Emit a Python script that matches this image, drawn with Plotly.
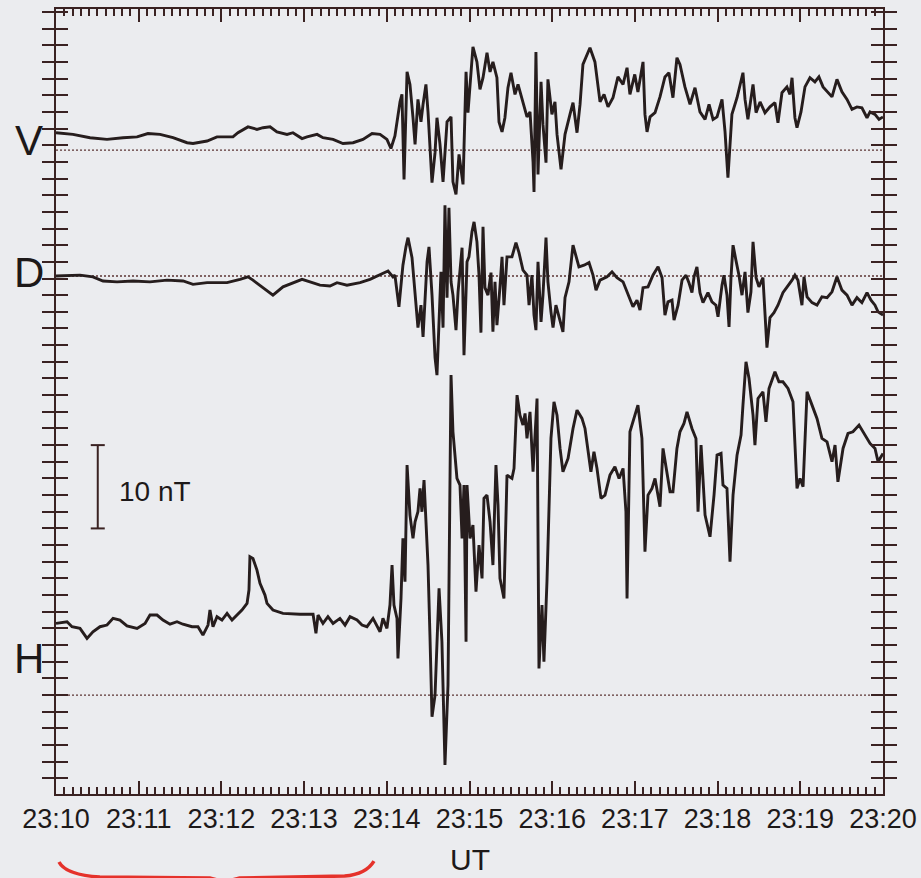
import plotly.graph_objects as go

# Ground magnetometer record, 23:10-23:20 UT.
# Each sample: (seconds after 23:10 UT, field in nT relative to the component's baseline)
V_SAMPLES = [
    (0, 2.1), (12.3, 1.9), (24.7, 1.5), (37.0, 1.3), (48.6, 1.5), (58.8, 1.6), (66.7, 2.0),
    (75.5, 1.9), (84.9, 1.5), (95.1, 0.9), (99.4, 0.8), (109.6, 1.1), (116.8, 1.6), (128.4, 1.6),
    (132.0, 2.1), (139.3, 2.8), (145.8, 2.5), (150.2, 2.7), (155.3, 2.8), (160.3, 2.2), (167.6, 1.9),
    (171.9, 2.1), (178.5, 1.4), (182.1, 1.6), (189.4, 1.9), (193.7, 1.5), (201.0, 1.3), (208.2, 0.8),
    (215.5, 0.9), (222.7, 1.3), (229.3, 2.0), (235.1, 1.9), (240.1, 1.3), (243.0, 0.2), (245.9, 1.7),
    (249.6, 5.8), (251.0, 6.7), (252.5, -3.5), (254.7, 9.4), (256.8, 7.9), (259.0, 3.9), (260.5, 0.7),
    (262.6, 6.1), (264.8, 3.4), (266.3, 5.5), (268.4, 7.9), (269.9, 4.6), (272.8, -3.9), (275.0, -0.3),
    (276.4, 3.9), (278.6, 0.7), (280.8, -3.8), (283.7, 3.4), (286.6, 4.0), (288.0, -3.8), (290.2, -5.3),
    (292.4, -0.5), (295.3, -4.1), (297.5, 9.4), (298.9, 4.5), (302.5, 12.4), (305.4, 10.6), (307.6, 7.3),
    (309.8, 8.7), (312.7, 11.7), (314.9, 9.4), (317.0, 10.6), (319.9, 8.7), (321.4, 3.4), (323.6, 2.2),
    (325.7, 3.9), (327.9, 7.5), (330.1, 9.3), (333.0, 6.7), (335.2, 7.9), (338.1, 6.1), (341.7, 4.0),
    (343.9, 4.6), (346.1, -1.4), (346.8, -5.0), (348.2, 11.8), (349.7, -2.9), (351.9, 8.2), (353.3, 3.1),
    (355.5, -1.5), (356.9, 8.5), (359.8, 4.3), (362.0, 5.8), (363.5, 1.9), (366.4, -2.3), (369.3, 1.9),
    (372.9, 4.3), (375.1, 5.7), (378.0, 2.1), (380.2, 5.5), (382.3, 10.3), (387.4, 12.3), (391.0, 10.6),
    (394.7, 5.8), (397.6, 6.7), (400.5, 5.2), (404.1, 6.3), (407.7, 8.8), (411.4, 7.9), (414.3, 9.9),
    (416.4, 6.7), (419.9, 9.1), (422.2, 7.0), (425.9, 10.6), (427.3, 4.3), (428.8, 2.2), (431.0, 4.0),
    (434.6, 4.5), (438.2, 6.4), (441.8, 8.8), (444.7, 9.3), (447.6, 6.3), (450.5, 11.1), (452.7, 10.3),
    (456.3, 7.6), (460.0, 5.5), (463.6, 7.5), (467.2, 4.6), (470.9, 3.7), (473.8, 5.5), (476.7, 3.7),
    (479.6, 4.0), (483.2, 6.1), (485.4, 2.2), (487.5, -3.3), (490.4, 4.3), (494.1, 6.3), (498.4, 9.3),
    (499.9, 6.1), (502.0, 3.7), (505.7, 7.9), (507.9, 4.5), (510.8, 5.8), (514.4, 4.5), (518.0, 5.2),
    (521.6, 5.7), (523.8, 3.3), (526.7, 6.9), (530.3, 7.6), (532.5, 6.7), (534.0, 8.7), (536.1, 3.9),
    (537.6, 2.7), (540.5, 4.6), (543.4, 7.6), (547.0, 8.7), (550.6, 8.2), (553.5, 8.8), (556.5, 7.6),
    (560.1, 7.0), (563.0, 6.4), (566.6, 8.5), (570.2, 7.0), (573.9, 6.1), (577.5, 4.9), (581.1, 5.2),
    (584.7, 5.1), (588.4, 3.9), (590.6, 4.6), (594.2, 4.3), (597.1, 3.7), (600.0, 4.0),
]

D_SAMPLES = [
    (0, 0.0), (17.4, 0.1), (26.8, -0.1), (34.1, -0.6), (44.3, -0.7), (55.9, -0.6), (68.2, -0.7),
    (80.6, -0.5), (92.2, -0.6), (99.4, -1.0), (109.6, -0.8), (124.1, -0.8), (133.5, -0.4), (139.3, -0.1),
    (142.9, -0.5), (150.2, -1.4), (157.4, -2.3), (164.7, -1.3), (171.9, -0.8), (178.5, -0.4), (184.3, -0.7),
    (191.5, -1.1), (198.8, -1.2), (203.9, -0.8), (211.1, -1.1), (220.6, -0.8), (227.8, -0.4), (235.1, 0.2),
    (240.9, 0.6), (244.5, -0.1), (245.9, 0.1), (248.8, -3.7), (251.7, 1.3), (253.9, 3.5), (255.4, 4.6),
    (258.3, 2.2), (260.5, -2.3), (262.6, -6.2), (264.8, -3.5), (266.3, -7.3), (269.2, 1.7), (270.6, 3.5),
    (272.8, -2.3), (275.0, -9.8), (276.4, -11.9), (277.9, -6.2), (279.3, 0.5), (280.8, -6.2), (282.2, 8.5),
    (283.7, -2.6), (285.1, 8.2), (286.6, -0.7), (288.0, -2.3), (290.2, -6.5), (291.7, -1.9), (294.6, 3.4),
    (296.0, -9.5), (298.2, 1.7), (299.6, 2.3), (301.8, 5.3), (303.3, 6.5), (305.4, 4.1), (306.9, 0.1),
    (308.3, -6.8), (309.8, 5.9), (311.2, -1.4), (313.4, -2.3), (315.6, 0.4), (317.0, -6.7), (318.5, -0.7),
    (319.9, -5.9), (322.1, -1.3), (323.6, 2.3), (325.0, -3.5), (327.2, 2.3), (330.8, 2.3), (333.7, 4.0),
    (335.9, 2.8), (338.8, 0.7), (341.7, 0.1), (343.2, -3.5), (345.3, 0.1), (346.8, -4.7), (348.2, -6.5),
    (349.7, 1.7), (351.9, -5.5), (353.3, -2.3), (355.5, 4.6), (356.9, -0.7), (359.1, -4.3), (360.6, -6.2),
    (362.7, -3.5), (364.9, -5.0), (367.8, -6.7), (369.3, -2.6), (372.2, -0.7), (375.1, 3.7), (377.3, 2.2),
    (379.4, 1.1), (383.1, 1.3), (386.7, 1.6), (389.6, 0.1), (391.8, -1.7), (394.7, -0.5), (399.8, -0.1),
    (403.4, 0.5), (407.0, -0.2), (411.4, -0.7), (415.0, -2.3), (418.6, -3.7), (421.5, -2.9), (423.7, -4.1),
    (425.9, -1.4), (429.5, -1.3), (433.1, 0.1), (436.8, 1.1), (439.7, -0.2), (441.8, -4.7), (444.0, -3.1),
    (446.9, -2.9), (448.4, -5.3), (451.3, -3.5), (454.2, -0.5), (457.1, 0.1), (459.2, -0.8), (461.4, -2.0),
    (462.9, -0.1), (465.0, 1.1), (467.2, -2.0), (469.4, -3.2), (473.0, -2.0), (475.9, -3.1), (478.8, -3.5),
    (480.3, -4.9), (483.2, -1.1), (484.6, 0.1), (486.8, -2.3), (488.3, -6.1), (489.7, -0.2), (491.2, 3.7),
    (493.3, 1.9), (495.5, 0.1), (497.7, -2.3), (499.9, 0.5), (502.0, -4.4), (504.2, -1.9), (505.7, 4.1),
    (507.9, -0.2), (510.0, -1.3), (512.9, -0.2), (515.8, -8.6), (518.0, -5.0), (520.9, -4.4), (523.8, -3.5),
    (527.4, -2.0), (530.3, -1.4), (534.0, -0.5), (536.1, 0.1), (538.3, -0.5), (541.2, -3.5), (542.7, -0.1),
    (544.9, -2.5), (548.5, -3.2), (552.1, -3.5), (555.7, -2.5), (559.4, -2.6), (563.0, -1.9), (566.6, -0.1),
    (570.2, -1.7), (573.9, -2.3), (577.5, -3.5), (581.1, -2.6), (584.7, -3.2), (588.4, -2.0), (591.3, -2.9),
    (594.2, -3.5), (596.4, -4.3), (600.0, -4.7),
]

H_SAMPLES = [
    (0, 8.6), (8.0, 8.8), (11.6, 8.2), (17.4, 8.0), (22.5, 6.8), (26.8, 7.6), (31.9, 8.2), (37.0, 8.4),
    (41.4, 9.2), (46.4, 9.0), (51.5, 8.3), (58.8, 8.0), (64.6, 8.6), (68.2, 9.6), (73.3, 9.6), (77.6, 9.0),
    (82.7, 8.5), (87.8, 8.8), (92.1, 8.5), (98.7, 8.2), (103.0, 8.2), (106.6, 7.2), (110.3, 8.4),
    (111.7, 10.2), (113.9, 8.2), (116.8, 9.4), (120.4, 9.0), (124.1, 9.8), (127.7, 9.0), (131.3, 9.6),
    (134.9, 10.2), (138.6, 11.0), (140.0, 12.6), (140.7, 16.6), (142.9, 16.4), (145.8, 15.0), (148.0, 13.4),
    (151.6, 12.0), (153.1, 11.0), (157.4, 10.2), (164.7, 9.8), (177.0, 9.7), (186.5, 9.7), (188.6, 7.4),
    (190.1, 9.6), (193.7, 8.6), (197.3, 9.4), (201.0, 8.6), (206.0, 9.2), (209.7, 8.4), (213.3, 9.4),
    (218.4, 9.0), (222.0, 8.4), (225.6, 8.2), (230.0, 9.2), (235.1, 7.6), (237.2, 9.2), (240.1, 8.0),
    (242.3, 10.8), (243.8, 15.6), (245.2, 10.8), (247.4, 9.2), (248.1, 4.4), (250.3, 11.6), (251.7, 18.8),
    (253.2, 13.6), (254.7, 27.6), (256.8, 21.6), (259.0, 18.8), (260.5, 20.8), (262.6, 22.0), (264.1, 24.8),
    (265.5, 22.0), (267.0, 25.8), (268.4, 21.6), (269.9, 15.6), (271.3, 7.2), (272.8, -2.6), (275.0, 0.0),
    (276.4, 7.6), (277.9, 12.8), (280.0, 6.4), (282.2, -8.4), (284.4, 1.2), (285.1, 11.6), (286.6, 38.4),
    (288.0, 31.6), (290.9, 26.0), (293.1, 25.2), (294.6, 18.8), (296.0, 25.2), (297.5, 6.4), (298.2, 25.2),
    (300.4, 18.8), (302.5, 20.4), (304.7, 12.4), (306.9, 18.0), (309.1, 14.0), (310.5, 23.6), (312.7, 24.0),
    (314.9, 20.8), (317.0, 15.6), (319.2, 27.6), (320.7, 22.8), (322.1, 14.0), (325.0, 11.6), (327.2, 26.4),
    (330.8, 26.0), (332.3, 27.2), (334.5, 36.0), (336.6, 33.6), (338.8, 32.4), (340.3, 33.8), (341.7, 30.8),
    (343.9, 34.0), (346.1, 26.8), (349.0, 35.6), (349.7, 13.2), (350.4, 3.2), (352.6, 10.8), (354.0, 4.0),
    (356.2, 13.6), (357.7, 24.4), (359.1, 30.8), (361.3, 35.2), (363.5, 33.6), (365.7, 29.6), (367.8, 26.8),
    (371.5, 28.4), (375.1, 32.0), (378.0, 34.2), (381.6, 33.2), (383.8, 32.0), (386.0, 29.2), (388.1, 26.8),
    (390.3, 29.2), (392.5, 27.2), (395.4, 23.6), (398.3, 24.0), (401.9, 26.4), (405.5, 27.4), (408.5, 26.0),
    (411.4, 27.2), (413.5, 22.0), (414.3, 11.6), (416.4, 31.6), (420.1, 33.8), (422.2, 34.8), (425.1, 30.8),
    (427.3, 17.2), (429.5, 24.0), (432.4, 24.8), (434.6, 26.0), (436.8, 23.6), (438.2, 22.6), (440.4, 29.6),
    (443.3, 26.8), (445.5, 24.4), (447.6, 24.4), (450.5, 29.6), (452.7, 31.6), (455.6, 32.6), (457.8, 34.0),
    (461.4, 32.0), (464.3, 30.8), (465.8, 22.0), (468.0, 30.0), (470.9, 21.6), (474.5, 19.0), (477.4, 24.0),
    (479.6, 28.8), (482.5, 29.0), (483.9, 25.2), (486.8, 24.8), (489.0, 16.0), (491.2, 24.0), (494.1, 28.8),
    (497.0, 31.2), (498.4, 34.8), (500.6, 40.0), (502.8, 38.0), (505.7, 33.6), (507.1, 30.0), (509.3, 35.6),
    (512.9, 36.4), (515.1, 32.8), (517.3, 36.8), (521.6, 38.8), (524.5, 37.6), (527.4, 37.6), (531.1, 36.8),
    (534.7, 35.2), (537.6, 24.8), (539.8, 26.0), (542.0, 25.0), (544.9, 36.4), (548.5, 34.8), (552.1, 33.2),
    (555.7, 30.8), (559.4, 30.4), (563.0, 28.0), (565.2, 30.0), (567.3, 25.6), (571.0, 29.6), (574.6, 31.4),
    (578.2, 31.6), (582.6, 32.4), (586.9, 31.2), (590.6, 30.2), (594.2, 29.6), (596.4, 28.0), (600.0, 29.0),
]

COMPONENTS = ["V", "D", "H"]
SAMPLES = {"V": V_SAMPLES, "D": D_SAMPLES, "H": H_SAMPLES}

TICK_SECONDS = [0, 60, 120, 180, 240, 300, 360, 420, 480, 540, 600]
TICK_LABELS = ["23:10", "23:11", "23:12", "23:13", "23:14", "23:15",
               "23:16", "23:17", "23:18", "23:19", "23:20"]

SCALE_NT = 10  # length of the amplitude scale bar

# ---- layout constants (positions and styles) ----
OFFSET = {"V": 65.4, "D": 50.3, "H": 0.0}        # vertical stacking of the baselines (nT)
LABEL_Y = {"V": 66.6, "D": 50.7, "H": 4.4}       # component letters
SCALE_X, SCALE_MID = 30.3, 25.0                 # scale bar position (s, nT)
Y_RANGE = [-11.88, 82.35]
X_RANGE = [0, 600]

PAPER = "#ebecef"
INK = "#261d1d"
FRAME = "#3a2222"
FONT = "Liberation Sans"
TEXT = "#1d1919"

fig = go.Figure()

# dotted zero baselines
for comp in COMPONENTS:
    fig.add_trace(go.Scatter(
        x=X_RANGE, y=[OFFSET[comp]] * 2, mode="lines",
        line=dict(color="#5c3434", width=1.3, dash="2px,2px"),
        hoverinfo="skip", showlegend=False,
    ))

# the three field components
for comp in COMPONENTS:
    t = [s[0] for s in SAMPLES[comp]]
    v = [s[1] + OFFSET[comp] for s in SAMPLES[comp]]
    fig.add_trace(go.Scatter(
        x=t, y=v, mode="lines", name=comp,
        line=dict(color=INK, width=2.9, shape="linear"),
        showlegend=False,
    ))

# amplitude scale bar: a vertical stroke SCALE_NT long with short end caps
bar_y = [SCALE_MID - SCALE_NT / 2, SCALE_MID + SCALE_NT / 2]
fig.add_trace(go.Scatter(
    x=[SCALE_X, SCALE_X], y=bar_y, mode="lines+markers",
    line=dict(color=FRAME, width=2),
    marker=dict(symbol="line-ew", size=10, line=dict(color=FRAME, width=2)),
    hoverinfo="skip", showlegend=False,
))

# empty carriers so the bottom and top tick axes are laid out as subplots
for ax in ("x2", "x3"):
    fig.add_trace(go.Scatter(x=[X_RANGE[0]], y=[0], mode="lines", xaxis=ax, yaxis="y",
                             hoverinfo="skip", showlegend=False, line=dict(width=0)))

annotations = []
for comp in COMPONENTS:
    annotations.append(dict(
        x=-0.0326, xref="paper", y=LABEL_Y[comp], yref="y",
        text=comp, showarrow=False, xanchor="center", yanchor="middle",
        font=dict(family=FONT, size=42, color=TEXT),
    ))
annotations.append(dict(
    x=44.3, xref="x", y=24.4, yref="y", text=f"{SCALE_NT} nT", showarrow=False,
    xanchor="left", yanchor="middle", font=dict(family=FONT, size=28, color=TEXT),
))
annotations.append(dict(
    x=0.5, xref="paper", y=-0.084, yref="paper", text="UT", showarrow=False,
    xanchor="center", yanchor="middle", font=dict(family=FONT, size=30, color=TEXT),
))

# red hand-drawn brace under the quiet interval
brace = ("M 0.0036,-0.0866 Q 0.012,-0.103 0.053,-0.1057 L 0.186,-0.107 "
         "L 0.204,-0.112 L 0.222,-0.107 L 0.349,-0.1045 Q 0.375,-0.102 0.3845,-0.0854")
shapes = [dict(type="path", path=brace, xref="paper", yref="paper",
               line=dict(color="#e5322b", width=3.5), layer="above")]

minor_x = dict(ticks="inside", ticklen=7, tickwidth=1.6, tickcolor=FRAME,
               tick0=0, dtick=6, showgrid=False)
tick_axis = dict(
    range=X_RANGE, overlaying="x", anchor="y", tickmode="linear", tick0=0, dtick=60,
    showticklabels=False, showgrid=False, zeroline=False, showline=False,
    ticks="inside", ticklen=13, tickwidth=2, tickcolor=FRAME, minor=minor_x,
    layer="above traces",
)

fig.update_layout(
    width=921, height=878,
    margin=dict(l=56, r=38, t=9, b=84, autoexpand=False),
    paper_bgcolor=PAPER, plot_bgcolor=PAPER,
    showlegend=False, hovermode=False,
    annotations=annotations, shapes=shapes,
    xaxis=dict(
        range=X_RANGE, tickmode="linear", tick0=0, dtick=60,
        labelalias={str(s): lab for s, lab in zip(TICK_SECONDS, TICK_LABELS)},
        tickfont=dict(family=FONT, size=27, color=TEXT),
        ticks="inside", ticklen=13, tickwidth=2, tickcolor=FRAME,
        showline=True, linewidth=2, linecolor=FRAME, mirror="allticks",
        showgrid=False, zeroline=False, layer="above traces",
        minor=minor_x,
    ),
    xaxis2=dict(side="bottom", **tick_axis),
    xaxis3=dict(side="top", **tick_axis),
    yaxis=dict(
        range=Y_RANGE, tickmode="linear", tick0=0, dtick=2, showticklabels=False,
        ticks="inside", ticklen=12, tickwidth=1.8, tickcolor=FRAME,
        showline=True, linewidth=2, linecolor=FRAME, mirror="allticks",
        showgrid=False, zeroline=False,
    ),
)

fig.write_html("out.html")
